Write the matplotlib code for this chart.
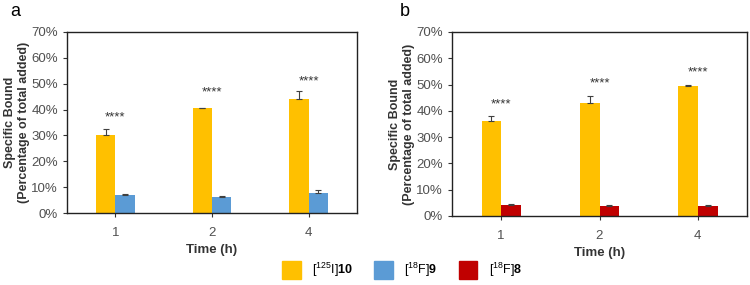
import matplotlib
matplotlib.use("Agg")
import matplotlib.pyplot as plt
import numpy as np
from matplotlib.patches import Patch
from matplotlib.ticker import PercentFormatter

plt.rcParams['font.family'] = ['Liberation Sans', 'DejaVu Sans']
plt.rcParams['mathtext.fontset'] = 'custom'
plt.rcParams['mathtext.rm'] = 'Liberation Sans'
plt.rcParams['mathtext.bf'] = 'Liberation Sans:bold'

times = ["1", "2", "4"]
a_i10 = [30.0, 40.5, 44.0]
a_i10_err = [2.5, 0.3, 3.2]
a_f9 = [7.0, 6.3, 7.7]
a_f9_err = [0.3, 0.3, 1.2]
b_i10 = [36.0, 42.8, 49.4]
b_i10_err = [2.2, 3.0, 0.3]
b_f8 = [4.2, 3.7, 3.9]
b_f8_err = [0.4, 0.4, 0.3]
a_stars = [37.0, 46.5, 51.0]
b_stars = [42.5, 50.5, 54.8]

c_yellow = "#FFC000"
c_blue = "#5B9BD5"
c_red = "#C00000"

fig = plt.figure(figsize=(7.5, 2.85), dpi=100)
ax1 = fig.add_axes([67/750, 1-213/285, 290/750, 181/285])
ax2 = fig.add_axes([452/750, 1-216/285, 295/750, 184/285])

def draw(ax, v1, e1, v2, e2, c2, stars):
    x = np.arange(len(times))
    w = 0.2
    ek = dict(ecolor="#404040", elinewidth=0.8, capsize=2, capthick=0.8)
    ax.bar(x - w/2, v1, w, color=c_yellow, yerr=[np.zeros(3), e1], error_kw=ek)
    ax.bar(x + w/2, v2, w, color=c2, yerr=[np.zeros(3), e2], error_kw=ek)
    for xi, s in zip(x, stars):
        ax.text(xi, s, "****", ha="center", va="center", fontsize=9.5, color="#333333")
    ax.set_xlim(-0.5, 2.5)
    ax.set_ylim(0, 70)
    ax.set_yticks(np.arange(0, 71, 10))
    ax.yaxis.set_major_formatter(PercentFormatter(decimals=0))
    ax.set_xticks(x)
    ax.set_xticklabels(times)
    ax.tick_params(labelsize=9.5, length=3, width=0.8, colors="#333333", labelcolor="#505050")
    ax.tick_params(axis="x", pad=7)
    for sp in ax.spines.values():
        sp.set_linewidth(1.0)
        sp.set_color("#222222")
    ax.set_xlabel("Time (h)", fontsize=9.5, fontweight="bold", color="#333333", labelpad=4)
    ax.set_ylabel("Specific Bound\n(Percentage of total added)", fontsize=9,
                  fontweight="bold", color="#333333", labelpad=1)

draw(ax1, a_i10, a_i10_err, a_f9, a_f9_err, c_blue, a_stars)
draw(ax2, b_i10, b_i10_err, b_f8, b_f8_err, c_red, b_stars)

fig.text(10/750, 1-12/285, "a", fontsize=13, va="center", ha="left")
fig.text(400/750, 1-12/285, "b", fontsize=13, va="center", ha="left")

handles = [Patch(color=c_yellow), Patch(color=c_blue), Patch(color=c_red)]
labels = [r"[$^{125}$I]$\mathbf{10}$", r"[$^{18}$F]$\mathbf{9}$", r"[$^{18}$F]$\mathbf{8}$"]
fig.legend(handles, labels, loc="center", bbox_to_anchor=(402/750, 1-270/285), ncol=3,
           frameon=False, fontsize=9, handlelength=1.5, handleheight=1.9,
           columnspacing=1.7, handletextpad=0.9)

fig.savefig("out.png", dpi=100)
